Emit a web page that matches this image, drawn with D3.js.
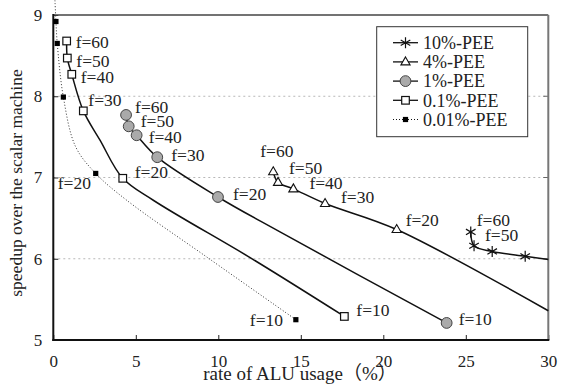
<!DOCTYPE html>
<html lang="en">
<head>
    <meta charset="UTF-8">
    <title>Speedup vs ALU usage</title>
    <script src="https://d3js.org/d3.v7.min.js"></script>
    <style>
        body { margin: 0; background: #fff; }
        svg text { font-family: "Liberation Serif", "DejaVu Serif", "Noto Sans CJK JP", serif; fill: #222; }
    </style>
</head>
<body>
    <div id="chart"></div>

    <script>
        // values
        const xTicks = [0, 5, 10, 15, 20, 25, 30];
        const yTicks = [5, 6, 7, 8, 9];
        const gridY = [6, 7, 8];

        const pee10X = [25.3, 25.5, 26.6, 28.6];
        const pee10Y = [6.33, 6.16, 6.09, 6.03];
        const pee10F = ["f=60", "f=50", "", ""];
        const pee10Fit = [[25.3, 6.33], [25.5, 6.16], [26.6, 6.09], [28.6, 6.03], [30, 5.99]];

        const pee4X = [13.33, 13.62, 14.55, 16.47, 20.81];
        const pee4Y = [7.07, 6.94, 6.86, 6.68, 6.36];
        const pee4F = ["f=60", "f=50", "f=40", "f=30", "f=20"];
        const pee4Fit = [[13.33, 7.07], [13.62, 6.94], [14.55, 6.86], [16.47, 6.68], [20.81, 6.36], [30, 5.36]];

        const pee1X = [4.41, 4.57, 5.05, 6.3, 9.98, 23.84];
        const pee1Y = [7.77, 7.63, 7.52, 7.25, 6.76, 5.21];
        const pee1F = ["f=60", "f=50", "f=40", "f=30", "f=20", "f=10"];
        const pee1Fit = [[4.41, 7.77], [4.57, 7.63], [5.05, 7.52], [6.3, 7.25], [9.98, 6.76], [13.74, 6.33], [23.84, 5.21]];

        const pee01X = [0.81, 0.85, 1.12, 1.82, 4.21, 17.64];
        const pee01Y = [8.68, 8.47, 8.27, 7.82, 6.99, 5.29];
        const pee01F = ["f=60", "f=50", "f=40", "f=30", "f=20", "f=10"];
        const pee01Fit = [[0.81, 8.68], [0.85, 8.47], [1.12, 8.27], [1.82, 7.82], [2.83, 7.46], [4.21, 6.99], [6.06, 6.72], [12.12, 5.99], [17.64, 5.29]];

        const pee001X = [0.16, 0.24, 0.61, 2.57, 14.7];
        const pee001Y = [8.92, 8.65, 7.99, 7.05, 5.25];
        const pee001F = ["", "", "", "f=20", "f=10"];
        const pee001Fit = [[0.1, 9.18], [0.16, 8.92], [0.24, 8.65], [0.61, 7.99], [1.35, 7.38], [2.57, 7.05], [4.45, 6.72], [9.45, 6.0], [14.7, 5.25]];

        const width = 561, height = 385;
        const x = d3.scaleLinear().domain([0, 30]).range([53.3, 548.3]);
        const y = d3.scaleLinear().domain([5, 9]).range([340, 15]);

        const svg = d3.select("#chart").append("svg")
                      .attr("width", width)
                      .attr("height", height);

        // grid
        svg.selectAll(".grid")
           .data(gridY)
           .enter().append("line")
           .attr("x1", x(0)).attr("x2", x(30))
           .attr("y1", d => y(d)).attr("y2", d => y(d))
           .attr("stroke", "#b8b8b8")
           .attr("stroke-dasharray", "2,3");

        // axes (ticks point inward)
        const xAxis = svg.append("g")
           .attr("transform", `translate(0,${y(5)})`)
           .call(d3.axisBottom(x).tickValues(xTicks).tickFormat(d3.format("d"))
                   .tickSizeInner(-5).tickSizeOuter(0).tickPadding(15));
        const yAxis = svg.append("g")
           .attr("transform", `translate(${x(0)},0)`)
           .call(d3.axisLeft(y).tickValues(yTicks).tickFormat(d3.format("d"))
                   .tickSizeInner(-5).tickSizeOuter(0).tickPadding(11));
        [xAxis, yAxis].forEach(a => {
            a.select(".domain").remove();
            a.selectAll("text").style("font-size", "17px").attr("fill", "#333");
            a.selectAll(".tick line").attr("stroke", "#222");
        });

        // right side ticks
        svg.selectAll(".rtick")
           .data(gridY)
           .enter().append("line")
           .attr("x1", x(30)).attr("x2", x(30) - 5)
           .attr("y1", d => y(d)).attr("y2", d => y(d))
           .attr("stroke", "#666");

        // frame
        svg.append("line").attr("x1", x(0)).attr("x2", x(30)).attr("y1", y(9)).attr("y2", y(9))
           .attr("stroke", "#444").attr("stroke-width", 1.5);
        svg.append("line").attr("x1", x(30)).attr("x2", x(30)).attr("y1", y(9)).attr("y2", y(5))
           .attr("stroke", "#777").attr("stroke-width", 2);
        svg.append("line").attr("x1", x(0)).attr("x2", x(0)).attr("y1", y(9) - 1).attr("y2", y(5) + 1)
           .attr("stroke", "#111").attr("stroke-width", 2);
        svg.append("line").attr("x1", x(0) - 1).attr("x2", x(30) + 1).attr("y1", y(5)).attr("y2", y(5))
           .attr("stroke", "#111").attr("stroke-width", 2);

        // titles
        svg.append("text")
           .attr("x", 300).attr("y", 380)
           .attr("text-anchor", "middle")
           .style("font-size", "19px")
           .text("rate of ALU usage（%）");
        svg.append("text")
           .attr("transform", "translate(22,183) rotate(-90)")
           .attr("text-anchor", "middle")
           .style("font-size", "17.5px")
           .text("speedup over the scalar machine");

        // markers
        const markers = {
            star: g => g.append("path")
                        .attr("d", "M0,-5.5V5.5M-4.8,-2.8L4.8,2.8M-4.8,2.8L4.8,-2.8")
                        .attr("stroke", "#111").attr("stroke-width", 1.2).attr("fill", "none"),
            tri: g => g.append("path")
                       .attr("d", "M0,-5L4.6,3L-4.6,3Z")
                       .attr("stroke", "#111").attr("stroke-width", 1.1).attr("fill", "#fff"),
            circ: g => g.append("circle")
                        .attr("r", 5.4)
                        .attr("stroke", "#444").attr("stroke-width", 1).attr("fill", "#aaa"),
            sq: g => g.append("rect")
                      .attr("x", -3.8).attr("y", -3.8).attr("width", 7.6).attr("height", 7.6)
                      .attr("stroke", "#111").attr("stroke-width", 1.2).attr("fill", "#fff"),
            fsq: g => g.append("rect")
                       .attr("x", -2.6).attr("y", -2.6).attr("width", 5.2).attr("height", 5.2)
                       .attr("fill", "#000")
        };

        const series = [
            { name: "10%-PEE", xs: pee10X, ys: pee10Y, fs: pee10F, fit: pee10Fit, mark: "star", dash: null,
              nudge: [[6, -12], [11, -11], [0, 0], [0, 0]] },
            { name: "4%-PEE", xs: pee4X, ys: pee4Y, fs: pee4F, fit: pee4Fit, mark: "tri", dash: null,
              nudge: [[-13, -21], [11, -15], [16, -6], [16, -7], [9, -10]] },
            { name: "1%-PEE", xs: pee1X, ys: pee1Y, fs: pee1F, fit: pee1Fit, mark: "circ", dash: null,
              nudge: [[9, -8], [12, -5], [12, 2], [14, -2], [15, -3], [12, -4]] },
            { name: "0.1%-PEE", xs: pee01X, ys: pee01Y, fs: pee01F, fit: pee01Fit, mark: "sq", dash: null,
              nudge: [[9, 1], [9, 3], [9, 3], [5, -11], [12, -6], [12, -7]] },
            { name: "0.01%-PEE", xs: pee001X, ys: pee001Y, fs: pee001F, fit: pee001Fit, mark: "fsq", dash: "1,2",
              nudge: [[0, 0], [0, 0], [0, 0], [-38, 9], [-46, 0]] }
        ];

        const line = d3.line()
                       .x(d => x(d[0]))
                       .y(d => y(d[1]))
                       .curve(d3.curveCatmullRom.alpha(0.5));

        series.forEach(s => {
            svg.append("path")
               .attr("d", line(s.fit))
               .attr("fill", "none")
               .attr("stroke", s.dash ? "#333" : "#111")
               .attr("stroke-width", s.dash ? 1 : 1.5)
               .attr("stroke-dasharray", s.dash);
        });

        series.forEach(s => {
            s.xs.forEach((v, i) => {
                const g = svg.append("g").attr("transform", `translate(${x(v)},${y(s.ys[i])})`);
                markers[s.mark](g);
            });
        });

        series.forEach(s => {
            s.xs.forEach((v, i) => {
                if (!s.fs[i]) return;
                svg.append("text")
                   .attr("x", x(v) + s.nudge[i][0])
                   .attr("y", y(s.ys[i]) + s.nudge[i][1])
                   .attr("dy", "0.35em")
                   .style("font-size", "17.5px")
                   .text(s.fs[i]);
            });
        });

        // legend
        const legend = svg.append("g");
        legend.append("rect")
              .attr("x", 376.7).attr("y", 26.7)
              .attr("width", 151).attr("height", 110)
              .attr("fill", "#fff").attr("stroke", "#333").attr("stroke-width", 1);
        series.forEach((s, i) => {
            const ly = 42.7 + i * 19.2;
            legend.append("line")
                  .attr("x1", 393).attr("x2", 418)
                  .attr("y1", ly).attr("y2", ly)
                  .attr("stroke", "#111")
                  .attr("stroke-width", s.dash ? 1 : 1.3)
                  .attr("stroke-dasharray", s.dash);
            const g = legend.append("g").attr("transform", `translate(405.5,${ly})`);
            markers[s.mark](g);
            legend.append("text")
                  .attr("x", 423).attr("y", ly)
                  .attr("dy", "0.35em")
                  .style("font-size", "18px")
                  .text(s.name);
        });
    </script>
</body>
</html>
